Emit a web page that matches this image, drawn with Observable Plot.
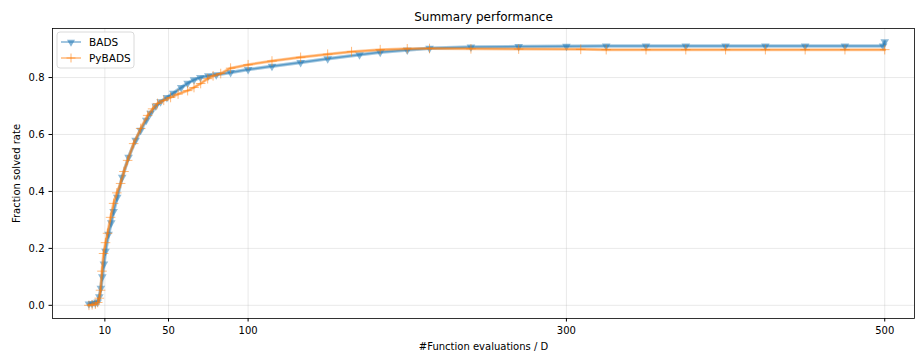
<!DOCTYPE html>
<html><head><meta charset="utf-8">
<script src="https://cdn.jsdelivr.net/npm/d3@7"></script>
<script src="https://cdn.jsdelivr.net/npm/@observablehq/plot@0.6"></script>
<style>
body{margin:0;background:#fff;}
#chart{position:relative;width:916px;height:354px;font-family:"DejaVu Sans",sans-serif;}
</style>
</head><body><div id="chart"></div>
<script>
const seriesNames = ["BADS", "PyBADS"];
const seriesColors = ["#1f77b4", "#ff7f0e"];
const badsX = [0, 2, 4, 5.5, 6.5, 7.5, 8.4, 9.4, 10.4, 12.3, 14, 15.5, 17.8, 20.9, 24.9, 29.3, 32.5, 36, 38.7, 42, 45, 49, 53, 58, 62, 66, 70, 75, 80, 89, 100, 115, 133, 150, 170, 183, 200, 214, 240, 270, 300, 325, 350, 375, 400, 425, 450, 475, 499, 500];
const badsY = [0.005, 0.006, 0.008, 0.012, 0.03, 0.06, 0.1, 0.145, 0.19, 0.25, 0.29, 0.33, 0.38, 0.45, 0.52, 0.58, 0.615, 0.65, 0.675, 0.70, 0.715, 0.73, 0.745, 0.765, 0.78, 0.792, 0.80, 0.806, 0.81, 0.818, 0.828, 0.84, 0.853, 0.866, 0.88, 0.889, 0.897, 0.903, 0.907, 0.909, 0.91, 0.911, 0.911, 0.911, 0.911, 0.911, 0.911, 0.911, 0.911, 0.926];
const pybadsX = [0, 2, 4, 5.5, 6.5, 7.3, 8.2, 9.2, 10.4, 11.7, 13.6, 15.5, 17.5, 19.9, 22, 24.3, 28.1, 32.5, 36.9, 40, 43.1, 47, 51.3, 56, 62, 66, 70.2, 74.6, 78, 82.8, 89, 100, 115, 133, 150, 165, 183, 200, 214, 240, 270, 309, 325, 350, 375, 400, 425, 450, 475, 500];
const pybadsY = [0.0, 0.002, 0.004, 0.01, 0.025, 0.053, 0.12, 0.182, 0.22, 0.253, 0.309, 0.358, 0.395, 0.428, 0.47, 0.509, 0.568, 0.621, 0.667, 0.69, 0.709, 0.72, 0.73, 0.742, 0.754, 0.765, 0.779, 0.796, 0.806, 0.814, 0.833, 0.845, 0.858, 0.871, 0.882, 0.891, 0.898, 0.901, 0.902, 0.901, 0.9, 0.899, 0.898, 0.898, 0.898, 0.898, 0.898, 0.898, 0.898, 0.898];
const xTicks = [10, 50, 100, 300, 500];
const yTicks = [0.0, 0.2, 0.4, 0.6, 0.8];
const titleText = "Summary performance";
const xLabel = "#Function evaluations / D";
const yLabel = "Fraction solved rate";

const bads = badsX.map((x, i) => ({x, y: badsY[i], s: seriesNames[0]}));
const pybads = pybadsX.map((x, i) => ({x, y: pybadsY[i], s: seriesNames[1]}));

const plot = Plot.plot({
  width: 916, height: 354,
  marginLeft: 52, marginRight: 2, marginTop: 28, marginBottom: 36,
  style: {fontFamily: "DejaVu Sans, sans-serif", fontSize: "10px", color: "#000", background: "#fff", overflow: "visible"},
  x: {domain: [-22.9, 518.7], ticks: xTicks, tickFormat: d => String(d), label: xLabel, labelAnchor: "center", labelArrow: "none", labelOffset: 31, tickSize: 3.5, tickPadding: 5},
  y: {domain: [-0.0463, 0.9723], ticks: yTicks, tickFormat: d3.format(".1f"), label: yLabel, labelAnchor: "center", labelArrow: "none", labelOffset: 40, tickSize: 3.5, tickPadding: 4.5},
  marks: [
    Plot.gridX(xTicks, {stroke: "#b0b0b0", strokeOpacity: 0.35, strokeWidth: 0.8}),
    Plot.gridY(yTicks, {stroke: "#b0b0b0", strokeOpacity: 0.35, strokeWidth: 0.8}),
    Plot.line(bads, {x: "x", y: "y", stroke: seriesColors[0], strokeWidth: 3.5, strokeOpacity: 0.4}),
    Plot.dot(bads, {x: "x", y: "y", symbol: "triangle", rotate: 180, r: 3.2, fill: seriesColors[0], fillOpacity: 0.5, stroke: "none"}),
    Plot.line(bads, {x: "x", y: "y", stroke: seriesColors[0], strokeWidth: 1.5, strokeOpacity: 0.55}),
    Plot.line(pybads, {x: "x", y: "y", stroke: seriesColors[1], strokeWidth: 3, strokeOpacity: 0.4}),
    Plot.dot(pybads, {x: "x", y: "y", symbol: "plus", r: 3.2, stroke: seriesColors[1], strokeOpacity: 0.55, strokeWidth: 1}),
    Plot.line(pybads, {x: "x", y: "y", stroke: seriesColors[1], strokeWidth: 1.5, strokeOpacity: 0.55}),
    Plot.frame({stroke: "#000", strokeWidth: 0.8}),
    Plot.text([titleText], {frameAnchor: "top", dy: -11, lineAnchor: "middle", fontSize: 12, fill: "#000"})
  ]
});
document.getElementById("chart").appendChild(plot);

// legend (upper left, inside the axes)
const svg = d3.select(plot);
const lg = svg.append("g").attr("transform", "translate(57,32)").attr("text-anchor", "start");
lg.append("rect").attr("width", 77).attr("height", 36).attr("rx", 3)
  .attr("fill", "#fff").attr("fill-opacity", 0.8).attr("stroke", "#d0d0d0").attr("stroke-width", 0.8);
const sym = [d3.symbol(d3.symbolTriangle, 28), d3.symbol(d3.symbolPlus, 28)];
seriesNames.forEach((name, i) => {
  const yy = 10 + i * 16;
  lg.append("line").attr("x1", 4).attr("x2", 24).attr("y1", yy).attr("y2", yy)
    .attr("stroke", seriesColors[i]).attr("stroke-width", 1.5).attr("stroke-opacity", 0.55);
  if (i === 0) {
    lg.append("path").attr("d", sym[0]()).attr("transform", `translate(14,${yy}) rotate(180)`)
      .attr("fill", seriesColors[i]).attr("fill-opacity", 0.55);
  } else {
    lg.append("path").attr("d", sym[1]()).attr("transform", `translate(14,${yy})`)
      .attr("fill", "none").attr("stroke", seriesColors[i]).attr("stroke-opacity", 0.6);
  }
  lg.append("text").attr("x", 32).attr("y", yy).attr("dy", "0.35em").attr("text-anchor", "start")
    .attr("font-size", 10.5).attr("fill", "#000").text(name);
});
</script>
</body></html>
